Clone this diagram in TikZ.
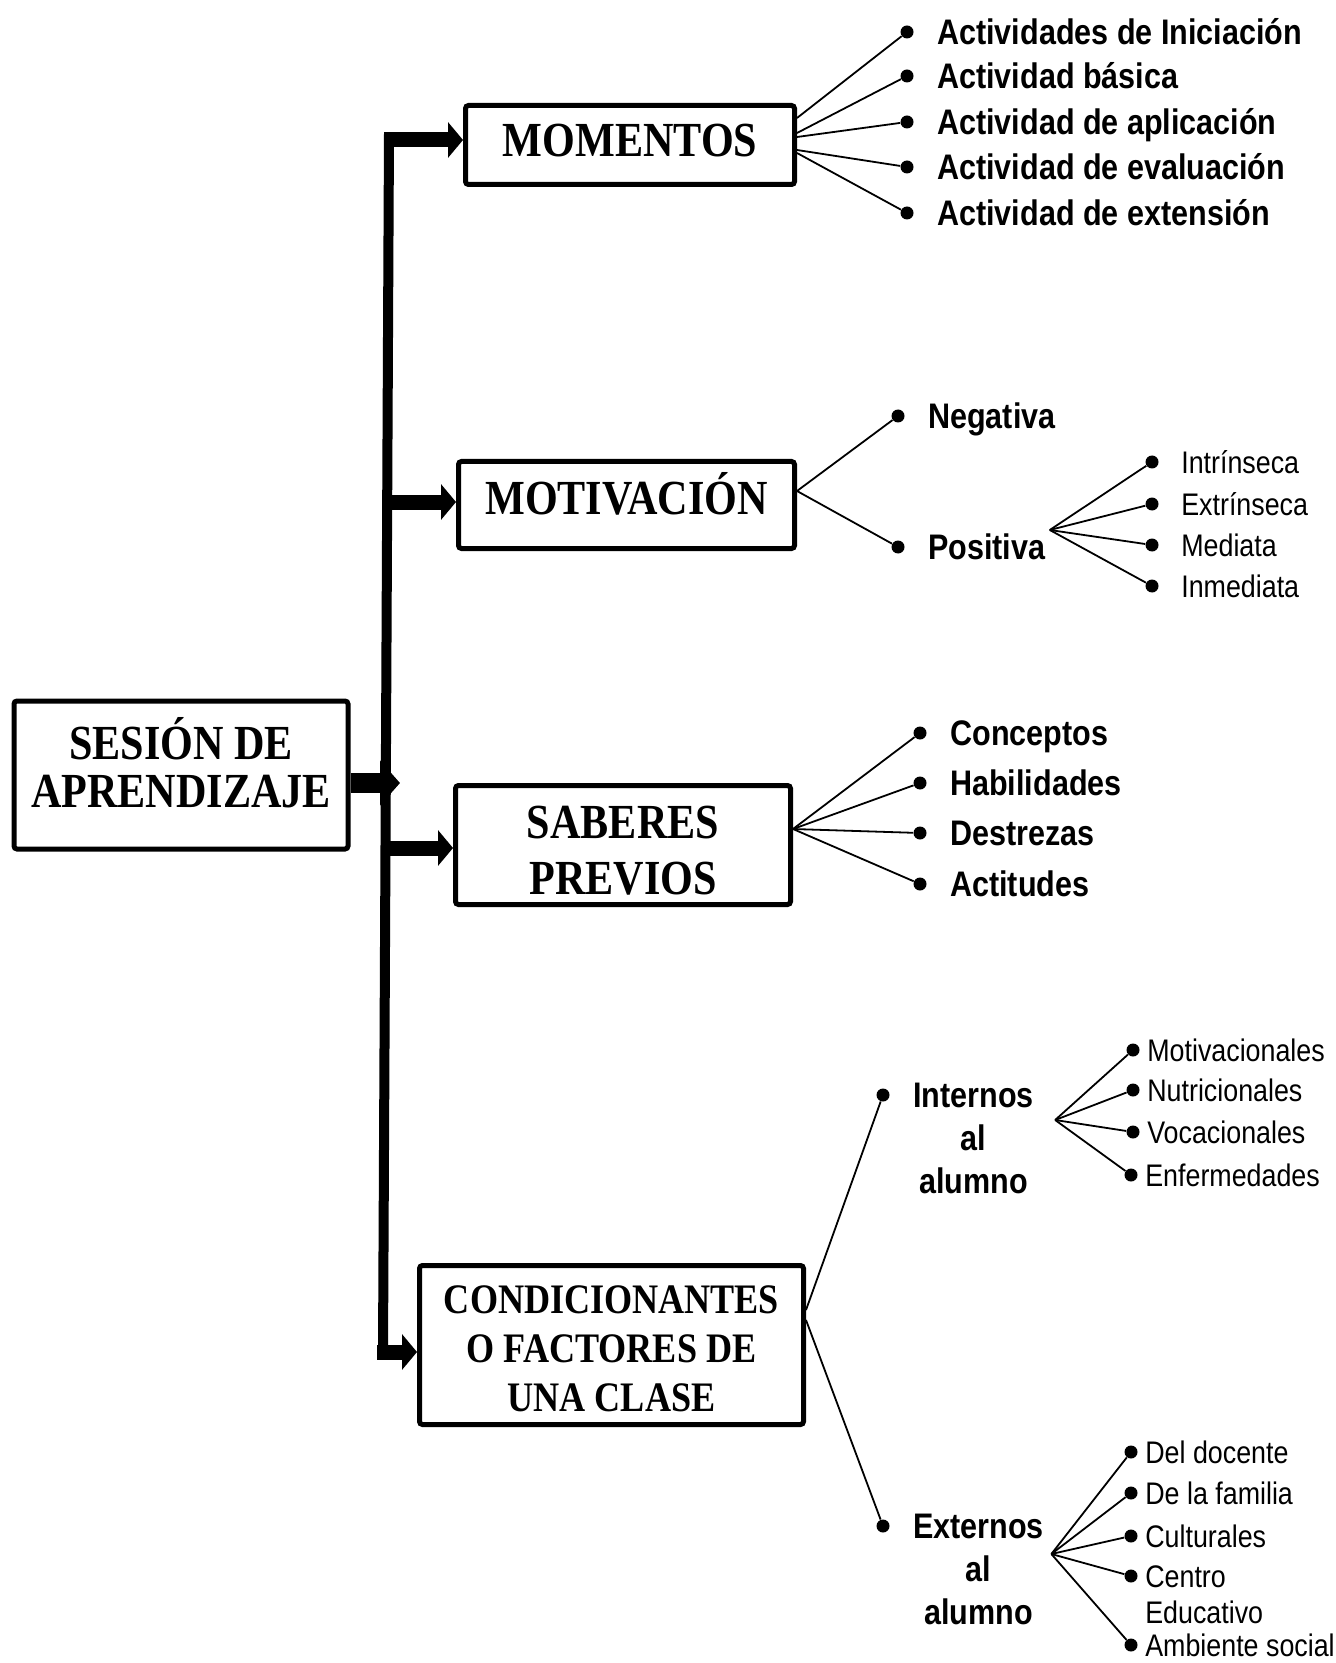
\documentclass[tikz,border=0pt]{standalone}
\usepackage{fontspec}
\usepackage{tikz}
\usetikzlibrary{arrows.meta}
\setsansfont{Liberation Sans}[FakeStretch=0.86]
\newfontfamily\trfont{Liberation Serif}[FakeStretch=0.86]
\newcommand\boxfont{\trfont\bfseries\fontsize{24.5}{24}\selectfont}
\newcommand\smallboxfont{\trfont\bfseries\fontsize{21}{24.5}\selectfont}
\newcommand\itemfont{\sffamily\bfseries\fontsize{17.75}{21.5}\selectfont}
\newcommand\leaffont{\sffamily\fontsize{15.6}{18}\selectfont}

\begin{document}
\begin{tikzpicture}[x=0.5pt,y=-0.5pt,>={Triangle[length=7.5pt,width=17.5pt]},
  main node/.style={draw,line width=2.5pt,rounded corners=1.5pt,align=center,font=\boxfont,text height=16pt},
  bus/.style={line width=7.5pt,->},
  fan/.style={line width=0.9pt},
  dot/.style={circle,fill,inner sep=0pt,minimum size=6.5pt},
  item text/.style={font=\itemfont,inner sep=0pt,text height=12.7pt,text depth=0pt,xshift=11.5pt},
  sub text/.style={font=\leaffont,inner sep=0pt,text height=11.2pt,text depth=0pt,xshift=11pt},
  leaf text/.style={sub text,xshift=-7.5pt},
  item node/.style={dot,label={[item text]right:#1}},
  sub node/.style={dot,label={[sub text]right:#1}},
  leaf node/.style={dot,label={[leaf text]right:#1}}]
  \useasboundingbox (0,0) rectangle (1335,1663);

  % main boxes
  \node[main node,minimum width=167pt,minimum height=74pt,text height=32.5pt,text depth=0pt] (0) at (181,775) {SESIÓN DE\\APRENDIZAJE};
  \node[main node,minimum width=164.5pt,minimum height=39.5pt,text depth=4pt] (1) at (630,145) {MOMENTOS};
  \node[main node,minimum width=168pt,minimum height=43.5pt,text depth=7pt] (2) at (626.5,505) {MOTIVACIÓN};
  \node[main node,minimum width=167.5pt,minimum height=59.5pt,text height=49pt,text depth=0pt] (3) at (623,845) {SABERES\\[4pt]PREVIOS};
  \node[main node,minimum width=192pt,minimum height=79.5pt,font=\smallboxfont,text height=66pt,text depth=0pt] (4) at (611.5,1345)
    {CONDICIONANTES\\O FACTORES DE\\UNA CLASE};

  % spine and thick arrows
  \coordinate (top) at (389,133);
  \coordinate (bot) at (383,1352);
  \coordinate (a0) at (400,783);
  \coordinate (a1) at (384,140);
  \coordinate (a2) at (387,502);
  \coordinate (a3) at (385,848);
  \coordinate (a4) at (377,1352);
  \draw[line width=5pt] (top) -- (bot);
  \draw[bus] (a1) -- (a1 -| 1.west);
  \draw[bus] (a2) -- (a2 -| 2.west);
  \draw[bus] (a3) -- (a3 -| 3.west);
  \draw[bus] (a4) -- (a4 -| 4.west);
  \draw[line width=10pt,-{Triangle[length=10pt,width=22pt]}] (0.east |- a0) -- (a0);

  % momentos
  \node[item node=Actividades de Iniciación] (m1) at (907,32) {};
  \node[item node=Actividad básica] (m2) at (907,76) {};
  \node[item node=Actividad de aplicación] (m3) at (907,122) {};
  \node[item node=Actividad de evaluación] (m4) at (907,167) {};
  \node[item node=Actividad de extensión] (m5) at (907,213) {};
  \path[fan] ([yshift=13.5pt]1.east) edge (m1)
    ([yshift=6pt]1.east) edge (m2)
    ([yshift=4pt]1.east) edge (m3)
    ([yshift=-2.5pt]1.east) edge (m4)
    ([yshift=-4pt]1.east) edge (m5);

  % motivacion
  \node[item node=Negativa] (n) at (898,416) {};
  \node[dot,label={[item text,name=ptxt]right:Positiva}] (p) at (898,547) {};
  \path[fan] ([yshift=7pt]2.east) edge (n)
    ([yshift=7pt]2.east) edge (p);
  \node[sub node=Intrínseca] (p1) at (1152,462) {};
  \node[sub node=Extrínseca] (p2) at (1152,504) {};
  \node[sub node=Mediata] (p3) at (1152,545) {};
  \node[sub node=Inmediata] (p4) at (1152,586) {};
  \path[fan] ([xshift=2pt,yshift=8.5pt]ptxt.east) edge (p1)
    ([xshift=2pt,yshift=8.5pt]ptxt.east) edge (p2)
    ([xshift=2pt,yshift=8.5pt]ptxt.east) edge (p3)
    ([xshift=2pt,yshift=8.5pt]ptxt.east) edge (p4);

  % saberes previos
  \node[item node=Conceptos] (c1) at (920,733) {};
  \node[item node=Habilidades] (c2) at (920,783) {};
  \node[item node=Destrezas] (c3) at (920,833) {};
  \node[item node=Actitudes] (c4) at (920,884) {};
  \path[fan] ([yshift=8pt]3.east) edge (c1)
    ([yshift=8pt]3.east) edge (c2)
    ([yshift=8pt]3.east) edge (c3)
    ([yshift=8pt]3.east) edge (c4);

  % condicionantes
  \node[dot,label={[item text,name=itxt]right:\begin{tabular}[t]{@{}c@{}}Internos\\al\\alumno\end{tabular}}] (i) at (883,1095) {};
  \node[dot,label={[item text,name=etxt]right:\begin{tabular}[t]{@{}c@{}}Externos\\al\\alumno\end{tabular}}] (e) at (883,1526) {};
  \path[fan] ([yshift=17.5pt]4.east) edge (i)
    ([yshift=12.5pt]4.east) edge (e);

  \node[leaf node=Motivacionales] (i1) at (1133,1050) {};
  \node[leaf node=Nutricionales] (i2) at (1133,1090) {};
  \node[leaf node=Vocacionales] (i3) at (1133,1132) {};
  \node[leaf node=Enfermedades] (i4) at (1131,1175) {};
  \path[fan] ([xshift=10.5pt,yshift=-12.5pt]itxt.east) edge (i1)
    ([xshift=10.5pt,yshift=-12.5pt]itxt.east) edge (i2)
    ([xshift=10.5pt,yshift=-12.5pt]itxt.east) edge (i3)
    ([xshift=10.5pt,yshift=-12.5pt]itxt.east) edge (i4);

  \node[leaf node=Del docente] (e1) at (1131,1452) {};
  \node[leaf node=De la familia] (e2) at (1131,1493) {};
  \node[leaf node=Culturales] (e3) at (1131,1536) {};
  \node[leaf node={\begin{tabular}[t]{@{}l@{}}Centro\\Educativo\end{tabular}}] (e4) at (1131,1576) {};
  \node[leaf node=Ambiente social] (e5) at (1131,1645) {};
  \path[fan] ([xshift=3.5pt,yshift=-14pt]etxt.east) edge (e1)
    ([xshift=3.5pt,yshift=-14pt]etxt.east) edge (e2)
    ([xshift=3.5pt,yshift=-14pt]etxt.east) edge (e3)
    ([xshift=3.5pt,yshift=-14pt]etxt.east) edge (e4)
    ([xshift=3.5pt,yshift=-14pt]etxt.east) edge (e5);
\end{tikzpicture}
\end{document}
